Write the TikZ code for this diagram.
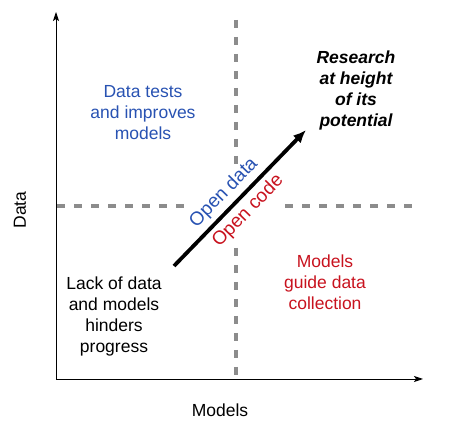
\documentclass[tikz,border=0pt]{standalone}
\usepackage{fontspec}
\setmainfont{Liberation Sans}
\usetikzlibrary{arrows.meta}
\definecolor{datablue}{RGB}{40,82,178}
\definecolor{codered}{RGB}{200,18,30}
\tikzset{
  axis/.style={line width=0.9pt,-{Stealth[length=9pt,width=6pt,inset=2pt]}},
  divider/.style={gray!90,line width=3.5pt,dash pattern=on 8pt off 9pt},
  quadrant/.style={align=center,font=\fontsize{17.5}{21}\selectfont},
  openlabel/.style={font=\fontsize{19}{22}\selectfont,sloped}
}
\begin{document}
\begin{tikzpicture}[x=1pt,y=1pt]
\useasboundingbox (0,0) rectangle (450,425);
% axes
\coordinate (O) at (56,46);
\coordinate (ytop) at (56,413);
\coordinate (xend) at (423,46);
\draw[axis] (O)--(ytop);
\draw[axis] (O)--(xend);
\node[font=\fontsize{17.5}{21}\selectfont] (modelsaxis) at (220,15) {Models};
\node[font=\fontsize{17.5}{21}\selectfont,rotate=90] (dataaxis) at (20,215) {Data};
% quadrant dividers
\coordinate (vtop) at (236,405);
\coordinate (vgapa) at (236,260);
\coordinate (vgapb) at (236,177);
\coordinate (vbot) at (236,48);
\coordinate (hleft) at (57,219);
\coordinate (hgapa) at (190,219);
\coordinate (hgapb) at (285,219);
\coordinate (hright) at (415,219);
\foreach \a/\b in {vtop/vgapa,vgapb/vbot,hleft/hgapa,hgapb/hright}
  \draw[divider] (\a)--(\b);
% quadrant texts
\node[quadrant,text=datablue] (datatests) at (143,312) {Data tests\\and improves\\models};
\node[quadrant,font=\fontsize{17.5}{21}\selectfont\bfseries\itshape] (research) at (356,335) {Research\\at height\\of its\\potential};
\node[quadrant,text=codered] (guide) at (325,143) {Models\\guide data\\collection};
\node[quadrant] (lack) at (114,109) {Lack of data\\and models\\hinders\\progress};
% the open science arrow
\coordinate (start) at (174,159);
\coordinate (goal) at (306,295);
\draw[line width=3.8pt,-{Latex[length=13pt,width=11pt]}] (start)--(goal)
  node[openlabel,pos=0.46,above=1pt,text=datablue] (opendata) {Open data}
  node[openlabel,pos=0.48,below=1pt,text=codered] (opencode) {Open code};
\end{tikzpicture}
\end{document}
